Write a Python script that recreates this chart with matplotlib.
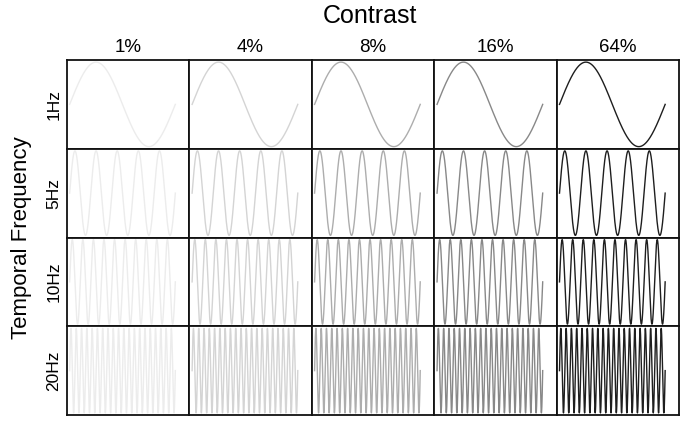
import matplotlib
matplotlib.use("Agg")
import matplotlib.pyplot as plt
import numpy as np

plt.rcParams["font.family"] = ["Liberation Sans", "DejaVu Sans"]

# columns / rows of the grid
contrast_labels = ["1%", "4%", "8%", "16%", "64%"]
line_colors = ["#ececec", "#d4d4d4", "#adadad", "#888888", "#1e1e1e"]
freq_labels = ["1Hz", "5Hz", "10Hz", "20Hz"]
freqs_hz = [1, 5, 10, 20]

W, H = 685, 421
fig = plt.figure(figsize=(W / 100, H / 100), dpi=100)

# grid box in pixels
x0, x1 = 66.7, 679.0
y0, y1 = 60.0, 415.0
ncol, nrow = len(contrast_labels), len(freq_labels)
cw = (x1 - x0) / ncol
rh = (y1 - y0) / nrow

t = np.linspace(0, 1, 4001)

for r, (flab, f) in enumerate(zip(freq_labels, freqs_hz)):
    for c, (clab, col) in enumerate(zip(contrast_labels, line_colors)):
        left = (x0 + c * cw) / W
        bottom = 1 - (y0 + (r + 1) * rh) / H
        ax = fig.add_axes([left, bottom, cw / W, rh / H])
        ax.plot(t, np.sin(2 * np.pi * f * t), color=col, lw=1.0)
        ax.set_xlim(-0.028, 1.131)
        ax.set_ylim(-1.05, 1.05)
        ax.set_xticks([])
        ax.set_yticks([])
        for sp in ax.spines.values():
            sp.set_linewidth(1.3)
            sp.set_color("#111111")
        if r == 0:
            ax.text(0.5, 1.04, clab, transform=ax.transAxes, ha="center",
                    va="bottom", fontsize=13.5)
        if c == 0:
            ax.text(-0.045, 0.5, flab, transform=ax.transAxes, ha="right",
                    va="center", rotation=90, fontsize=12.5)

fig.text(370 / W, 1 - 16 / H, "Contrast", ha="center", va="center", fontsize=18)
fig.text(22 / W, 1 - 238 / H, "Temporal Frequency", ha="center", va="center",
         rotation=90, fontsize=16)

fig.savefig("out.png", dpi=100, facecolor="white")
